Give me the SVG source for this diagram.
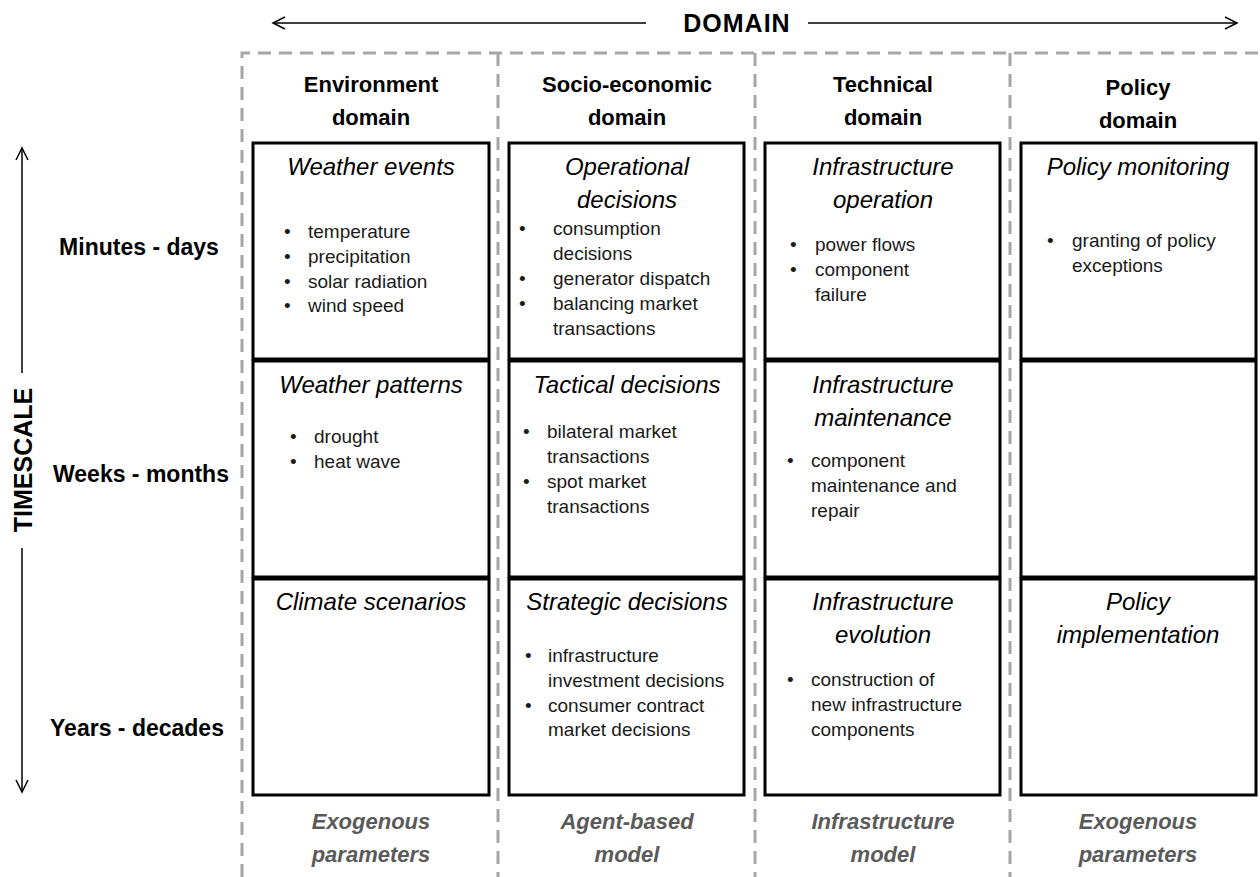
<svg xmlns="http://www.w3.org/2000/svg" width="1260" height="877" viewBox="0 0 1260 877">
<style>
text{font-family:"Liberation Sans",Arial,sans-serif;fill:#000}
.hdr{font-size:22px;font-weight:bold;text-anchor:middle}
.row{font-size:23px;font-weight:bold;text-anchor:middle}
.axis{font-size:25px;font-weight:bold;text-anchor:middle}
.ttl{font-size:24px;font-style:italic;text-anchor:middle}
.bd{font-size:19px;fill:#1a1a1a}
.bot{font-size:22px;font-weight:bold;font-style:italic;fill:#5a5a5a;text-anchor:middle}
.cell{fill:#fff;stroke:#000;stroke-width:3}
.dash{fill:none;stroke:#a6a6a6;stroke-width:3;stroke-dasharray:13 8}
.ax{fill:none;stroke:#000;stroke-width:1.5}
</style>
<rect width="1260" height="877" fill="#fff"/>

<g id="guides">
<path class="dash" d="M242,877 V53 H1260"/>
<path class="dash" d="M498,53 V877"/>
<path class="dash" d="M755,53 V877"/>
<path class="dash" d="M1010,53 V877"/>
</g>

<g id="connectors">
<path class="ax" d="M273,23 H646 M808,23 H1237"/>
<path class="ax" d="M285,17 L273,23 L285,29 M1225,17 L1237,23 L1225,29"/>
<path class="ax" d="M22,148 V373 M22,548 V792"/>
<path class="ax" d="M16,160 L22,148 L28,160 M16,780 L22,792 L28,780"/>
</g>

<g id="axis-labels">
<text class="axis" x="737" y="32" letter-spacing="1">DOMAIN</text>
<text class="axis" transform="translate(32,460) rotate(-90)">TIMESCALE</text>
<text class="row" x="139" y="255">Minutes - days</text>
<text class="row" x="141" y="482">Weeks - months</text>
<text class="row" x="137" y="736">Years - decades</text>
</g>

<g id="headers">
<text class="hdr" x="371" y="92">Environment</text>
<text class="hdr" x="371" y="125">domain</text>
<text class="hdr" x="627" y="92">Socio-economic</text>
<text class="hdr" x="627" y="125">domain</text>
<text class="hdr" x="883" y="92">Technical</text>
<text class="hdr" x="883" y="125">domain</text>
<text class="hdr" x="1138" y="95">Policy</text>
<text class="hdr" x="1138" y="128">domain</text>
</g>

<g id="env-minutes">
<rect class="cell" x="253" y="143" width="236" height="216"/>
<text class="ttl" x="371" y="175">Weather events</text>
<text class="bd" x="284" y="238">•</text><text class="bd" x="308" y="238">temperature</text>
<text class="bd" x="284" y="263">•</text><text class="bd" x="308" y="263">precipitation</text>
<text class="bd" x="284" y="288">•</text><text class="bd" x="308" y="288">solar radiation</text>
<text class="bd" x="284" y="312">•</text><text class="bd" x="308" y="312">wind speed</text>
</g>
<g id="env-weeks">
<rect class="cell" x="253" y="361" width="236" height="216"/>
<text class="ttl" x="371" y="393">Weather patterns</text>
<text class="bd" x="290" y="443">•</text><text class="bd" x="314" y="443">drought</text>
<text class="bd" x="290" y="468">•</text><text class="bd" x="314" y="468">heat wave</text>
</g>
<g id="env-years">
<rect class="cell" x="253" y="579" width="236" height="216"/>
<text class="ttl" x="371" y="610">Climate scenarios</text>
</g>

<g id="soc-minutes">
<rect class="cell" x="509" y="143" width="235" height="216"/>
<text class="ttl" x="627" y="175">Operational</text>
<text class="ttl" x="627" y="208">decisions</text>
<text class="bd" x="519" y="235">•</text><text class="bd" x="553" y="235">consumption</text>
<text class="bd" x="553" y="260">decisions</text>
<text class="bd" x="519" y="285">•</text><text class="bd" x="553" y="285">generator dispatch</text>
<text class="bd" x="519" y="310">•</text><text class="bd" x="553" y="310">balancing market</text>
<text class="bd" x="553" y="335">transactions</text>
</g>
<g id="soc-weeks">
<rect class="cell" x="509" y="361" width="235" height="216"/>
<text class="ttl" x="627" y="393">Tactical decisions</text>
<text class="bd" x="523" y="438">•</text><text class="bd" x="547" y="438">bilateral market</text>
<text class="bd" x="547" y="463">transactions</text>
<text class="bd" x="523" y="488">•</text><text class="bd" x="547" y="488">spot market</text>
<text class="bd" x="547" y="513">transactions</text>
</g>
<g id="soc-years">
<rect class="cell" x="509" y="579" width="235" height="216"/>
<text class="ttl" x="627" y="610">Strategic decisions</text>
<text class="bd" x="525" y="662">•</text><text class="bd" x="548" y="662">infrastructure</text>
<text class="bd" x="548" y="687">investment decisions</text>
<text class="bd" x="525" y="712">•</text><text class="bd" x="548" y="712">consumer contract</text>
<text class="bd" x="548" y="736">market decisions</text>
</g>

<g id="tech-minutes">
<rect class="cell" x="765" y="143" width="235" height="216"/>
<text class="ttl" x="883" y="175">Infrastructure</text>
<text class="ttl" x="883" y="208">operation</text>
<text class="bd" x="790" y="251">•</text><text class="bd" x="815" y="251">power flows</text>
<text class="bd" x="790" y="276">•</text><text class="bd" x="815" y="276">component</text>
<text class="bd" x="815" y="301">failure</text>
</g>
<g id="tech-weeks">
<rect class="cell" x="765" y="361" width="235" height="216"/>
<text class="ttl" x="883" y="393">Infrastructure</text>
<text class="ttl" x="883" y="426">maintenance</text>
<text class="bd" x="787" y="467">•</text><text class="bd" x="811" y="467">component</text>
<text class="bd" x="811" y="492">maintenance and</text>
<text class="bd" x="811" y="517">repair</text>
</g>
<g id="tech-years">
<rect class="cell" x="765" y="579" width="235" height="216"/>
<text class="ttl" x="883" y="610">Infrastructure</text>
<text class="ttl" x="883" y="643">evolution</text>
<text class="bd" x="787" y="686">•</text><text class="bd" x="811" y="686">construction of</text>
<text class="bd" x="811" y="711">new infrastructure</text>
<text class="bd" x="811" y="736">components</text>
</g>

<g id="pol-minutes">
<rect class="cell" x="1021" y="143" width="235" height="216"/>
<text class="ttl" x="1138" y="175">Policy monitoring</text>
<text class="bd" x="1047" y="247">•</text><text class="bd" x="1072" y="247">granting of policy</text>
<text class="bd" x="1072" y="272">exceptions</text>
</g>
<g id="pol-weeks">
<rect class="cell" x="1021" y="361" width="235" height="216"/>
</g>
<g id="pol-years">
<rect class="cell" x="1021" y="579" width="235" height="216"/>
<text class="ttl" x="1138" y="610">Policy</text>
<text class="ttl" x="1138" y="643">implementation</text>
</g>

<g id="models">
<text class="bot" x="371" y="829">Exogenous</text>
<text class="bot" x="371" y="862">parameters</text>
<text class="bot" x="627" y="829">Agent-based</text>
<text class="bot" x="627" y="862">model</text>
<text class="bot" x="883" y="829">Infrastructure</text>
<text class="bot" x="883" y="862">model</text>
<text class="bot" x="1138" y="829">Exogenous</text>
<text class="bot" x="1138" y="862">parameters</text>
</g>
</svg>
